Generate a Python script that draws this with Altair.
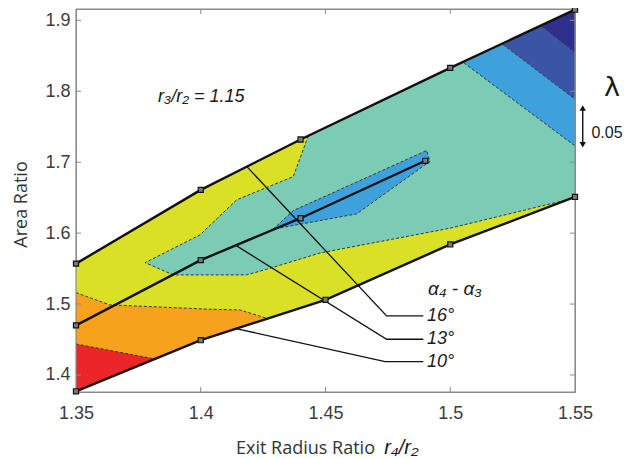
import altair as alt
import pandas as pd

# ---------------- data ----------------
X_MIN, X_MAX = 1.35, 1.55
Y_MIN, Y_MAX = 1.376, 1.916
x_ticks = [1.35, 1.40, 1.45, 1.50, 1.55]
y_ticks = [1.4, 1.5, 1.6, 1.7, 1.8, 1.9]

# black design lines (upper bound, alpha 13 deg, lower bound)
top_x = [1.35, 1.40, 1.44, 1.50, 1.55]
top_y = [1.557, 1.661, 1.732, 1.833, 1.915]
mid_x = [1.35, 1.40, 1.44, 1.49]
mid_y = [1.470, 1.562, 1.621, 1.702]
bot_x = [1.35, 1.40, 1.45, 1.50, 1.55]
bot_y = [1.377, 1.449, 1.506, 1.584, 1.651]

# lambda contour boundaries
red_x = [1.35, 1.3803, 1.387]
red_y = [1.4437, 1.4235, 1.430]
orange_x = [1.35, 1.3636, 1.3797, 1.4037, 1.4157, 1.4264]
orange_y = [1.5161, 1.4988, 1.4964, 1.4927, 1.4917, 1.480]
teal_up_x = [1.3777, 1.3997, 1.4144, 1.4371, 1.4431, 1.50, 1.55]
teal_up_y = [1.5584, 1.5975, 1.6469, 1.6798, 1.7372, 1.833, 1.915]
teal_lo_x = [1.3777, 1.389, 1.4184, 1.4264, 1.4478, 1.50, 1.548, 1.55]
teal_lo_y = [1.5584, 1.5411, 1.5411, 1.549, 1.572, 1.607, 1.648, 1.652]
isl_x = [1.429, 1.4371, 1.4625, 1.4899, 1.4906, 1.4919]
isl_top = [1.6056, 1.6318, 1.672, 1.7155, 1.7165, 1.7006]
isl_bot = [1.6056, 1.6108, 1.6272, 1.6963, 1.6978, 1.7006]
band_x0 = [1.5055, 1.5211, 1.5366]   # where the band line meets the top line
band_y0 = [1.840, 1.866, 1.892]
band_y1 = [1.723, 1.789, 1.855]      # where it meets the right edge
band_top = 1.915

# leader lines to the alpha labels
lead_names = ["16°", "13°", "10°"]
lead_x = [[1.4187, 1.4745, 1.4892], [1.4144, 1.4745, 1.4892], [1.4137, 1.4739, 1.4892]]
lead_y = [[1.693, 1.4832, 1.4832], [1.582, 1.4504, 1.4504], [1.4658, 1.4188, 1.4188]]

RED, ORANGE, YELLOW = "#EC2528", "#F6A21D", "#D9E026"
TEAL, BLUE, MIDBLUE, NAVY = "#7CCBB4", "#3FA1DB", "#3B55A6", "#2D318C"
BAND_COLORS = [BLUE, MIDBLUE, NAVY]
FRAME = "#8a8a8a"

W, H = 499, 383

# ---------------- encodings ----------------
xs = alt.Scale(domain=[X_MIN, X_MAX], nice=False, zero=False)
ys = alt.Scale(domain=[Y_MIN, Y_MAX], nice=False, zero=False)
x_axis = alt.Axis(values=x_ticks, format=".3~f", title="Exit Radius Ratio",
                  titleX=229, titleY=56, titleAlign="center", titleBaseline="middle",
                  labelPadding=12, labelFlush=False, labelOverlap=False)
y_axis = alt.Axis(values=y_ticks, format=".1f", title="Area Ratio", titleAngle=270,
                  titleX=-55, titleY=195, titleAlign="center", titleBaseline="middle",
                  labelPadding=6, labelFlush=False, labelOverlap=False)
X = alt.X("x:Q", scale=xs, axis=x_axis)
Y = alt.Y("y:Q", scale=ys, axis=y_axis)


def df(xv, yv, **extra):
    d = pd.DataFrame({"x": xv, "y": yv})
    for k, v in extra.items():
        d[k] = v
    return d


def under(xv, yv, color):
    return alt.Chart(df(xv, yv)).mark_area(color=color, opacity=1, interpolate="linear").encode(
        x=X, y=Y, y2=alt.datum(Y_MIN))


layers = [
    under(top_x, top_y, YELLOW),
    under(teal_up_x, teal_up_y, TEAL),
    under(teal_lo_x, teal_lo_y, YELLOW),
    under(orange_x, orange_y, ORANGE),
    under(red_x, red_y, RED),
    under(bot_x, bot_y, "white"),
]

# blue island around the 13 deg line
layers.append(alt.Chart(df(isl_x, isl_top, y2=isl_bot)).mark_area(color=BLUE, opacity=1).encode(
    x=X, y=Y, y2="y2:Q"))

# upper-right bands
for i in range(3):
    d = pd.DataFrame({"x": [band_x0[i], X_MAX], "y": [band_y0[i], band_top],
                      "y2": [band_y0[i], band_y1[i]]})
    layers.append(alt.Chart(d).mark_area(color=BAND_COLORS[i], opacity=1).encode(
        x=X, y=Y, y2="y2:Q"))

# dashed contour lines
dash_rows = []


def add_dash(g, xv, yv):
    for k, (a, b) in enumerate(zip(xv, yv)):
        dash_rows.append({"g": g, "o": k, "x": a, "y": b})


add_dash("red", red_x[:2], red_y[:2])
add_dash("orange", orange_x, orange_y)
add_dash("teal", teal_up_x[:5][::-1] + teal_lo_x[1:-1], teal_up_y[:5][::-1] + teal_lo_y[1:-1])
add_dash("island", isl_x + isl_x[::-1], isl_top + isl_bot[::-1])
for i in range(3):
    add_dash(f"band{i}", [band_x0[i], X_MAX], [band_y0[i], band_y1[i]])
layers.append(alt.Chart(pd.DataFrame(dash_rows)).mark_line(
    color="#2f3a3a", strokeWidth=1, strokeDash=[3, 2]).encode(
    x=X, y=Y, detail="g:N", order="o:Q"))

# leader lines
lead_rows = []
for n, xv, yv in zip(lead_names, lead_x, lead_y):
    for k, (a, b) in enumerate(zip(xv, yv)):
        lead_rows.append({"g": n, "o": k, "x": a, "y": b})
layers.append(alt.Chart(pd.DataFrame(lead_rows)).mark_line(color="#111", strokeWidth=1.3).encode(
    x=X, y=Y, detail="g:N", order="o:Q"))

# frame (drawn above the fills)
layers += [
    alt.Chart(df([0], [0])).mark_rule(color=FRAME, strokeWidth=1.2).encode(
        x=alt.value(0), y=alt.value(0), y2=alt.value(H)),
    alt.Chart(df([0], [0])).mark_rule(color=FRAME, strokeWidth=1.2).encode(
        x=alt.value(W), y=alt.value(0), y2=alt.value(H)),
    alt.Chart(df([0], [0])).mark_rule(color=FRAME, strokeWidth=1.2).encode(
        y=alt.value(H), x=alt.value(0), x2=alt.value(W)),
    alt.Chart(df([0], [0])).mark_rule(color=FRAME, strokeWidth=1.2).encode(
        y=alt.value(0), x=alt.value(0), x2=alt.value(W)),
]

# black design lines + markers
lines = pd.concat([df(top_x, top_y, g="top"), df(mid_x, mid_y, g="mid"), df(bot_x, bot_y, g="bot")])
layers.append(alt.Chart(lines).mark_line(color="#111", strokeWidth=2.4).encode(x=X, y=Y, detail="g:N"))
layers.append(alt.Chart(lines).mark_point(shape="square", size=26, fill="#7a7a7a", stroke="#111",
                                          strokeWidth=1.2, opacity=1).encode(x=X, y=Y))

# inward ticks (MATLAB box style)
xt = pd.DataFrame({"x": x_ticks[1:-1]})
yt = pd.DataFrame({"y": y_ticks})
tick_style = dict(color=FRAME, strokeWidth=1)
layers += [
    alt.Chart(xt).mark_rule(**tick_style).encode(x=X, y=alt.value(H), y2=alt.value(H - 5)),
    alt.Chart(xt).mark_rule(**tick_style).encode(x=X, y=alt.value(0), y2=alt.value(5)),
    alt.Chart(yt).mark_rule(**tick_style).encode(y=Y, x=alt.value(0), x2=alt.value(5)),
    alt.Chart(yt).mark_rule(**tick_style).encode(y=Y, x=alt.value(W), x2=alt.value(W - 5)),
]

# annotations
italic = dict(font="Liberation Sans", fontStyle="italic", color="#1a1a1a", align="left", baseline="middle")
layers.append(alt.Chart(df([1.3829], [1.7923], t="r₃/r₂ = 1.15")).mark_text(fontSize=18, **italic).encode(
    x=X, y=Y, text="t:N"))
layers.append(alt.Chart(df([1.4911], [1.5213], t="α₄ - α₃")).mark_text(fontSize=19, **italic).encode(
    x=X, y=Y, text="t:N"))
layers.append(alt.Chart(df([1.4907] * 3, [1.4832, 1.4504, 1.4188], t=lead_names)).mark_text(
    fontSize=18, **italic).encode(x=X, y=Y, text="t:N"))
layers.append(alt.Chart(df([1.4735], [0], t="r₄/r₂")).mark_text(fontSize=20, **italic).encode(
    x=X, y=alt.value(439), text="t:N"))
layers.append(alt.Chart(df([1.5648], [1.805], t="λ")).mark_text(
    fontSize=27, font="DejaVu Sans", color="#1a1a1a", align="center", baseline="middle").encode(
    x=X, y=Y, text="t:N"))
layers.append(alt.Chart(df([1.5566], [1.7415], t="0.05")).mark_text(
    fontSize=16, font="Liberation Sans", color="#1a1a1a", align="left", baseline="middle").encode(
    x=X, y=Y, text="t:N"))
arrow = pd.DataFrame({"x": [1.5531], "y": [1.778], "y2": [1.723]})
layers.append(alt.Chart(arrow).mark_rule(color="#111", strokeWidth=1.4).encode(x=X, y=Y, y2="y2:Q"))
heads = df([1.5531, 1.5531], [1.7765, 1.7245], s=["triangle-up", "triangle-down"])
layers.append(alt.Chart(heads).mark_point(filled=True, color="#111", size=40, opacity=1).encode(
    x=X, y=Y, shape=alt.Shape("s:N", scale=None)))

chart = alt.layer(*layers).properties(
    width=W, height=H, autosize="none",
    padding={"left": 68, "top": 1, "right": 48, "bottom": 66},
).configure_view(stroke=FRAME, strokeWidth=1).configure_axis(
    domain=False, ticks=False, grid=False,
    labelFont="Liberation Sans", labelFontSize=18, labelColor="#3c3c3c",
    titleFont="Open Sans", titleFontSize=18, titleFontWeight="normal", titleColor="#333333",
)

chart.save("out.html", embed_options={"renderer": "svg", "actions": False})
